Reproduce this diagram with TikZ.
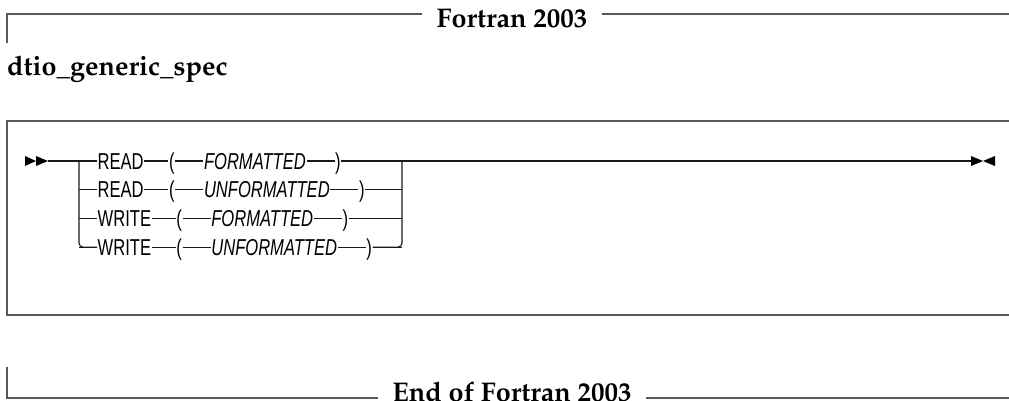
\documentclass[tikz,border=0pt]{standalone}
\usepackage[T1]{fontenc}
\usepackage{fontspec}
\usetikzlibrary{positioning}
\newfontfamily\rrfont[FakeStretch=0.72]{Liberation Sans}
\newcommand{\hdfont}{\fontencoding{T1}\fontfamily{ppl}\fontseries{b}\selectfont}
\tikzset{
  kw/.style={inner xsep=0.5pt, inner ysep=0pt, anchor=west, text height=16pt, text depth=0pt,
    font=\rrfont\fontsize{23}{26}\selectfont},
  vr/.style={kw, font=\rrfont\itshape\fontsize{23}{26}\selectfont},
  frame/.style={draw=black!65, line width=1.6pt},
  rail/.style={draw=black!90, line width=1.1pt},
  hd/.style={inner xsep=14pt, inner ysep=0pt, font=\hdfont\fontsize{27}{32}\selectfont}
}
\begin{document}
\begin{tikzpicture}[x=1pt,y=-1pt]
  \useasboundingbox (0,0) rectangle (1009,400);
  % opening banner
  \node[hd, anchor=base] (top) at (512,27) {Fortran 2003};
  \coordinate (tl) at (7,14);
  \draw[frame] (7,43) -- (tl) -- (tl -| top.west);
  \draw[frame] (top.east |- tl) -- (1009,14);
  \node[hd, anchor=base west, inner xsep=0pt] (name) at (7,75) {dtio\_generic\_spec};
  % box round the syntax
  \draw[frame] (1009,121) -- (7,121) -- (7,315) -- (1009,315);
  % start and end marks
  \coordinate (st) at (48,161);
  \coordinate (en) at (971,161);
  \fill (25,156) -- (36,161) -- (25,166) -- cycle;
  \fill (36,156) -- (st) -- (36,166) -- cycle;
  \fill (en |- 0,156) -- (983,161) -- (en |- 0,166) -- cycle;
  \fill (995,156) -- (983,161) -- (995,166) -- cycle;
  % the four choices
  \foreach \i/\kwd/\fmt in {1/READ/FORMATTED,2/READ/UNFORMATTED,3/WRITE/FORMATTED,4/WRITE/UNFORMATTED}{
    \coordinate (bl\i) at (79,{132.3+28.7*\i});
    \coordinate (br\i) at (402,{132.3+28.7*\i});
    \node[kw] (k\i) at (97,{132.3+28.7*\i}) {\kwd};
    \node[kw, right=24pt of k\i] (l\i) {(};
    \node[vr, right=28pt of l\i] (f\i) {\fmt};
    \node[kw, right=28pt of f\i] (r\i) {)};
    \draw[rail] (bl\i) -- (k\i);
    \draw[rail] (k\i) -- (l\i);
    \draw[rail] (l\i) -- (f\i);
    \draw[rail] (f\i) -- (r\i);
    \draw[rail] (r\i) -- (br\i);
  }
  \draw[rail, rounded corners=4pt] (bl1) -- (bl4) -- (k4.west);
  \draw[rail, rounded corners=4pt] (r4.east) -- (br4) -- (br1);
  \draw[rail] (st) -- (bl1);
  \draw[rail] (br1) -- (en);
  % closing banner
  \node[hd, anchor=base] (bot) at (512,401) {End of Fortran 2003};
  \coordinate (fl) at (7,398);
  \draw[frame] (7,367) -- (fl) -- (fl -| bot.west);
  \draw[frame] (bot.east |- fl) -- (1009,398);
\end{tikzpicture}
\end{document}
